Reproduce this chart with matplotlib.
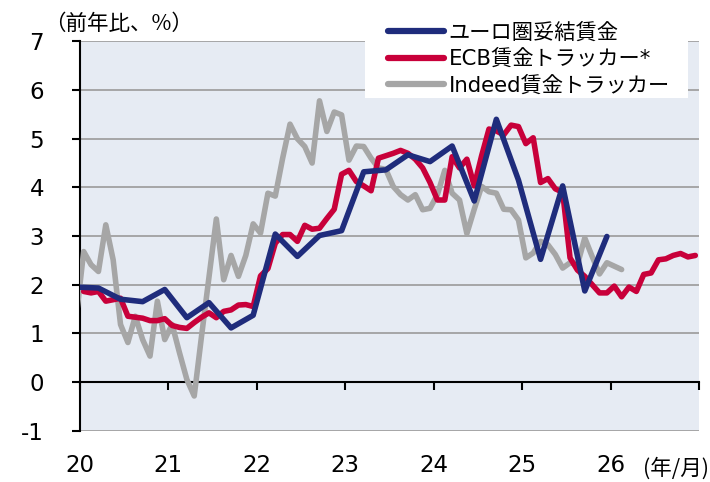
import matplotlib
matplotlib.use("Agg")
import matplotlib.pyplot as plt
from matplotlib.patches import Rectangle
import numpy as np

plt.rcParams['font.family'] = ['DejaVu Sans', 'Noto Sans CJK JP']

# ---- data ----
series_names = ["ユーロ圏妥結賃金", "ECB賃金トラッカー*", "Indeed賃金トラッカー"]

# Negotiated wages, quarterly (2019Q4 .. 2025Q4), plotted at quarter-end month
negotiated_start_month = -1   # Dec 2019 (months since Jan 2020)
negotiated = [1.95, 1.93, 1.70, 1.65, 1.90, 1.32, 1.63, 1.11, 1.37, 3.04, 2.58, 3.01,
              3.11, 4.32, 4.36, 4.67, 4.53, 4.85, 3.72, 5.40, 4.15, 2.52, 4.03, 1.87, 2.99]

# ECB wage tracker, monthly (Jan 2020 .. Dec 2026)
ecb_start_month = 0
ecb = [1.86, 1.83, 1.86, 1.66, 1.69, 1.72, 1.35, 1.33, 1.31, 1.26, 1.26, 1.30,
       1.16, 1.12, 1.10, 1.22, 1.33, 1.42, 1.32, 1.45, 1.48, 1.58, 1.59, 1.55,
       2.18, 2.33, 2.85, 3.03, 3.03, 2.89, 3.22, 3.14, 3.16, 3.36, 3.55, 4.27,
       4.35, 4.12, 4.03, 3.93, 4.60, 4.65, 4.70, 4.76, 4.70, 4.58, 4.40, 4.10,
       3.74, 3.74, 4.63, 4.40, 4.58, 4.03, 4.65, 5.20, 5.16, 5.08, 5.28, 5.25,
       4.90, 5.02, 4.10, 4.18, 3.97, 3.90, 2.55, 2.30, 2.17, 2.00, 1.83, 1.83,
       1.97, 1.75, 1.95, 1.86, 2.21, 2.24, 2.51, 2.53, 2.60, 2.64, 2.57, 2.60]

# Indeed wage tracker, monthly (Dec 2019 .. Feb 2026)
indeed_start_month = -1
indeed = [1.35,
          2.68, 2.41, 2.27, 3.23, 2.51, 1.18, 0.81, 1.35, 0.87, 0.53, 1.66, 0.87,
          1.18, 0.60, 0.05, -0.29, 0.95, 2.15, 3.35, 2.10, 2.60, 2.17, 2.60, 3.25,
          3.06, 3.88, 3.82, 4.60, 5.30, 5.00, 4.84, 4.50, 5.78, 5.15, 5.55, 5.49,
          4.56, 4.85, 4.84, 4.60, 4.40, 4.37, 4.02, 3.85, 3.74, 3.85, 3.54, 3.57,
          3.85, 4.35, 3.88, 3.74, 3.05, 3.55, 4.02, 3.91, 3.88, 3.55, 3.54, 3.33,
          2.55, 2.65, 2.89, 2.82, 2.62, 2.34, 2.45, 2.41, 2.96, 2.58, 2.22, 2.45,
          2.38, 2.31]

year_ticks = [2020, 2021, 2022, 2023, 2024, 2025, 2026, 2027]
year_labels = ["20", "21", "22", "23", "24", "25", "26", ""]
y_ticks = [-1, 0, 1, 2, 3, 4, 5, 6, 7]

def month_x(start, n, step=1):
    m = start + step * np.arange(n)
    return 2020 + (m + 0.5) / 12.0

x_neg = month_x(negotiated_start_month, len(negotiated), 3)
x_ecb = month_x(ecb_start_month, len(ecb))
x_ind = month_x(indeed_start_month, len(indeed))

# ---- figure ----
W, H = 710, 482
fig = plt.figure(figsize=(W/100, H/100), dpi=100)
ax = fig.add_axes([80/W, 1 - 431/H, (699-80)/W, (431-41)/H])
ax.set_facecolor("#E6EBF3")

blue = "#1F2C7C"
red = "#C8003A"
gray = "#A6A6A6"
lw = 4.0

h1, = ax.plot(x_neg, negotiated, color=blue, lw=lw, solid_capstyle='round',
              solid_joinstyle='round', label=series_names[0], zorder=5)
h2, = ax.plot(x_ecb, ecb, color=red, lw=lw, solid_capstyle='round',
              solid_joinstyle='round', label=series_names[1], zorder=4)
h3, = ax.plot(x_ind, indeed, color=gray, lw=lw, solid_capstyle='round',
              solid_joinstyle='round', label=series_names[2], zorder=3)

ax.set_xlim(2020, 2027)
ax.set_ylim(-1.01, 7.01)

ax.set_yticks(y_ticks)
ax.set_yticklabels([str(v) for v in y_ticks])
ax.set_xticks(year_ticks)
ax.set_xticklabels(year_labels)

ax.yaxis.grid(True, color="#A6A6A6", lw=1.4)
ax.xaxis.grid(False)
ax.set_axisbelow(True)

for s in ["top", "right"]:
    ax.spines[s].set_visible(False)
ax.spines["left"].set_color("black")
ax.spines["left"].set_linewidth(1.5)
ax.spines["bottom"].set_position(("data", 0))
ax.spines["bottom"].set_color("black")
ax.spines["bottom"].set_linewidth(1.5)
ax.spines["bottom"].set_zorder(2.5)

ax.tick_params(axis="y", direction="out", length=6, width=1.5, pad=20,
               labelsize=16.5, colors="black")
ax.tick_params(axis="x", direction="out", length=6, width=1.5, pad=46,
               labelsize=16.5, colors="black")

fig.text(44/W, 1 - 24/H, "（前年比、%）", fontsize=15.5, va="center", ha="left",
         family=['Noto Sans CJK JP', 'DejaVu Sans'])
fig.text(709/W, 1 - 469/H, "(年/月)", fontsize=15.5, va="center", ha="right",
         family=['Noto Sans CJK JP', 'DejaVu Sans'])

# legend background box
fig.patches.append(Rectangle((365/W, 1 - 98/H), (688-365)/W, 98/H,
                             transform=fig.transFigure, facecolor="white",
                             edgecolor="none", zorder=9))

leg = fig.legend(handles=[h1, h2, h3], labels=series_names,
                 loc="upper left", bbox_to_anchor=(388/W, 1 - 22/H),
                 bbox_transform=fig.transFigure, fontsize=15.3, frameon=False,
                 handlelength=2.65, handletextpad=0.2,
                 labelspacing=0.3, borderpad=0, borderaxespad=0)
leg.set_zorder(10)
for line in leg.get_lines():
    line.set_linewidth(4.5)
    line.set_solid_capstyle('round')

fig.savefig("out.png", dpi=100)
